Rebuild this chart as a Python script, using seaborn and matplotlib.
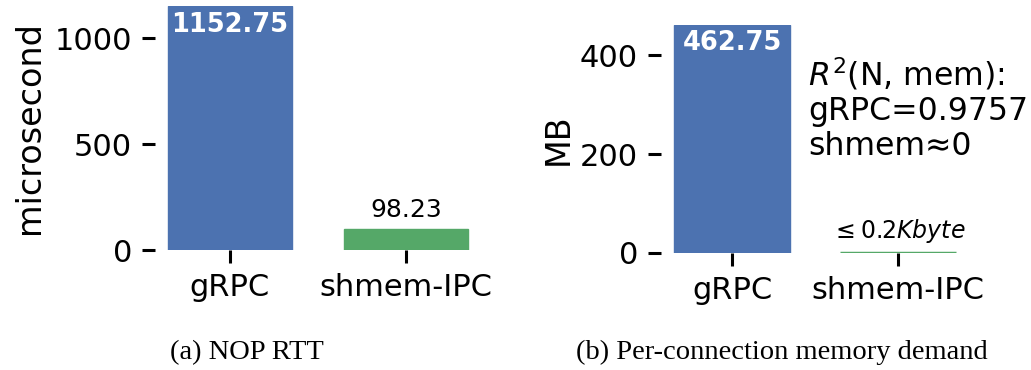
import pandas as pd
import seaborn as sns
import matplotlib.pyplot as plt

sns.set_theme(style="ticks")
plt.rcParams['font.family'] = ['DejaVu Sans']
plt.rcParams['mathtext.fontset'] = 'dejavusans'
plt.rcParams['text.color'] = 'black'

categories = ["gRPC", "shmem-IPC"]
rtt_us = [1152.75, 98.23]
mem_mb = [462.75, 0.0002]          # shmem: <= 0.2 Kbyte
mem_labels = ["462.75", r"$\leq 0.2Kbyte$"]
colors = ["#4C72B0", "#55A868"]

rtt = pd.DataFrame({"impl": categories, "val": rtt_us})
mem = pd.DataFrame({"impl": categories, "val": mem_mb})

W, H = 1031, 370
fig = plt.figure(figsize=(W / 100, H / 100), dpi=100)


def px_axes(left, right, top, bottom):
    return fig.add_axes([left / W, 1 - bottom / H, (right - left) / W, (bottom - top) / H])


def style(ax, ylabel, labelpad):
    sns.despine(ax=ax, left=True, bottom=True)
    ax.tick_params(axis="both", length=9.5, width=2.2, pad=7, labelsize=22,
                   colors="black")
    ax.set_xlabel("")
    ax.set_ylabel(ylabel, fontsize=24, color="black", labelpad=labelpad)
    for p in ax.patches:
        p.set_edgecolor(p.get_facecolor())


# (a) NOP RTT
ax1 = px_axes(155, 481, 6, 250)
sns.barplot(data=rtt, x="impl", y="val", hue="impl", palette=colors,
            saturation=1, width=0.7, legend=False, ax=ax1)
ax1.set_xlim(-0.426, 1.426)
ax1.set_ylim(0, 1152.75)
ax1.set_yticks([0, 500, 1000])
style(ax1, "microsecond", 6)
ax1.bar_label(ax1.containers[0], fmt="%.2f", padding=-23, color="white",
              fontsize=18.5, fontweight="bold")
ax1.bar_label(ax1.containers[1], fmt="%.2f", padding=5, color="black",
              fontsize=18)

# (b) per-connection memory
ax2 = px_axes(661, 969, 24.5, 253)
sns.barplot(data=mem, x="impl", y="val", hue="impl", palette=colors,
            saturation=1, width=0.7, legend=False, ax=ax2)
ax2.set_xlim(-0.428, 1.428)
ax2.set_ylim(0, 462.75)
ax2.set_yticks([0, 200, 400])
style(ax2, "MB", 4)
ax2.patches[1].set_linewidth(2.5)
ax2.bar_label(ax2.containers[0], labels=[mem_labels[0]], padding=-23,
              color="white", fontsize=18.5, fontweight="bold")
ax2.bar_label(ax2.containers[1], labels=[mem_labels[1]], padding=6,
              color="black", fontsize=17)

fig.text(808 / W, 1 - 155 / H, "$R^2$(N, mem):\ngRPC=0.9757\nshmem\u22480",
         fontsize=22.7, va="baseline", ha="left", linespacing=1.15)

fig.text(247 / W, 1 - 359 / H, "(a) NOP RTT", family="Liberation Serif",
         fontsize=20.5, ha="center", va="baseline")
fig.text(782 / W, 1 - 359 / H, "(b) Per-connection memory demand",
         family="Liberation Serif", fontsize=20.5, ha="center", va="baseline")

fig.savefig("out.png", dpi=100)
